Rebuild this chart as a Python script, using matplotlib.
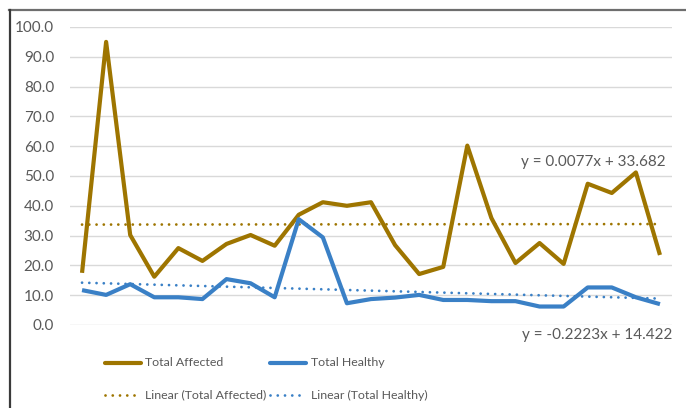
import matplotlib
matplotlib.use("Agg")
import matplotlib.pyplot as plt
from matplotlib.lines import Line2D
import numpy as np

plt.rcParams['font.family'] = ['Lato', 'DejaVu Sans']

# Series values, one per sample
total_affected = [17.5, 95.0, 30.2, 16.2, 25.8, 21.5, 27.2, 30.2, 26.6, 37.0,
                  41.2, 40.0, 41.2, 26.8, 17.1, 19.5, 60.2, 35.9, 20.8, 27.5,
                  20.5, 47.4, 44.3, 51.2, 23.5]
total_healthy = [11.7, 10.1, 13.7, 9.3, 9.3, 8.7, 15.4, 14.0, 9.3, 35.5,
                 29.4, 7.3, 8.7, 9.2, 10.1, 8.4, 8.4, 8.0, 8.0, 6.2,
                 6.2, 12.6, 12.6, 9.3, 7.0]

# Linear trendline coefficients (slope, intercept)
affected_fit = (0.0077, 33.682)
healthy_fit = (-0.2223, 14.422)

series_labels = ["Total Affected", "Total Healthy"]
trend_labels = ["Linear (Total Affected)", "Linear (Total Healthy)"]
y_ticks = [0, 10, 20, 30, 40, 50, 60, 70, 80, 90, 100]

gold = "#9E7500"
blue = "#3A80C6"
text_col = "#595959"
dotted = (0, (0.01, 2.6))

W, H = 686, 408
fig = plt.figure(figsize=(W / 100, H / 100), dpi=100)

def fx(px):
    return px / W

def fy(py):
    return 1 - py / H

# chart frame (top and left edges)
fig.add_artist(Line2D([fx(9), 1.0], [fy(10), fy(10)], color="#6e6e6e", lw=1.6,
                      transform=fig.transFigure))
fig.add_artist(Line2D([fx(9.5), fx(9.5)], [0, fy(10)], color="#3a3a3a", lw=1.6,
                      transform=fig.transFigure))

ax = fig.add_axes([fx(70), fy(325), fx(672) - fx(70), fy(27) - fy(325)])

x = np.arange(1, len(total_affected) + 1)
ax.set_xlim(0.5, len(x) + 0.5)
ax.set_ylim(0, 100)

ax.set_yticks(y_ticks)
ax.set_yticklabels([f"{v:.1f}" for v in y_ticks])
ax.tick_params(axis="y", length=0, pad=11.5, labelsize=11, labelcolor=text_col)
ax.set_xticks([])
for s in ax.spines.values():
    s.set_visible(False)
ax.grid(axis="y", color="#d9d9d9", lw=1.0)
ax.set_axisbelow(True)

ax.plot(x, total_affected, color=gold, lw=3.0, solid_joinstyle="round",
        solid_capstyle="butt", zorder=3)
ax.plot(x, total_healthy, color=blue, lw=3.0, solid_joinstyle="round",
        solid_capstyle="butt", zorder=4)

ax.plot(x, affected_fit[0] * x + affected_fit[1], color=gold, lw=2.0,
        linestyle=dotted, dash_capstyle="round", zorder=2)
ax.plot(x, healthy_fit[0] * x + healthy_fit[1], color=blue, lw=2.0,
        linestyle=dotted, dash_capstyle="round", zorder=2)

def eq_text(m, b):
    sign = "+" if b >= 0 else "-"
    return f"y = {m:.4f}x {sign} {abs(b):.3f}"

fig.text(fx(666), fy(162), eq_text(*affected_fit), ha="right", va="center",
         fontsize=11, color=text_col)
fig.text(fx(672), fy(335), eq_text(*healthy_fit), ha="right", va="center",
         fontsize=11, color=text_col)

# legend: two rows, two columns
entries = [
    (105, 145, 363, gold, "-", 3.0, series_labels[0]),
    (270, 311, 363, blue, "-", 3.0, series_labels[1]),
    (105, 145, 395, gold, dotted, 2.0, trend_labels[0]),
    (270, 311, 395, blue, dotted, 2.0, trend_labels[1]),
]
for hx, tx, ry, col, ls, lw, lab in entries:
    fig.add_artist(Line2D([fx(hx), fx(hx + 36)], [fy(ry), fy(ry)], color=col, lw=lw,
                          linestyle=ls, dash_capstyle="round",
                          solid_capstyle="round", transform=fig.transFigure))
    fig.text(fx(tx), fy(ry), lab, ha="left", va="center", fontsize=8.9,
             color=text_col)

fig.savefig("out.png", dpi=100)
